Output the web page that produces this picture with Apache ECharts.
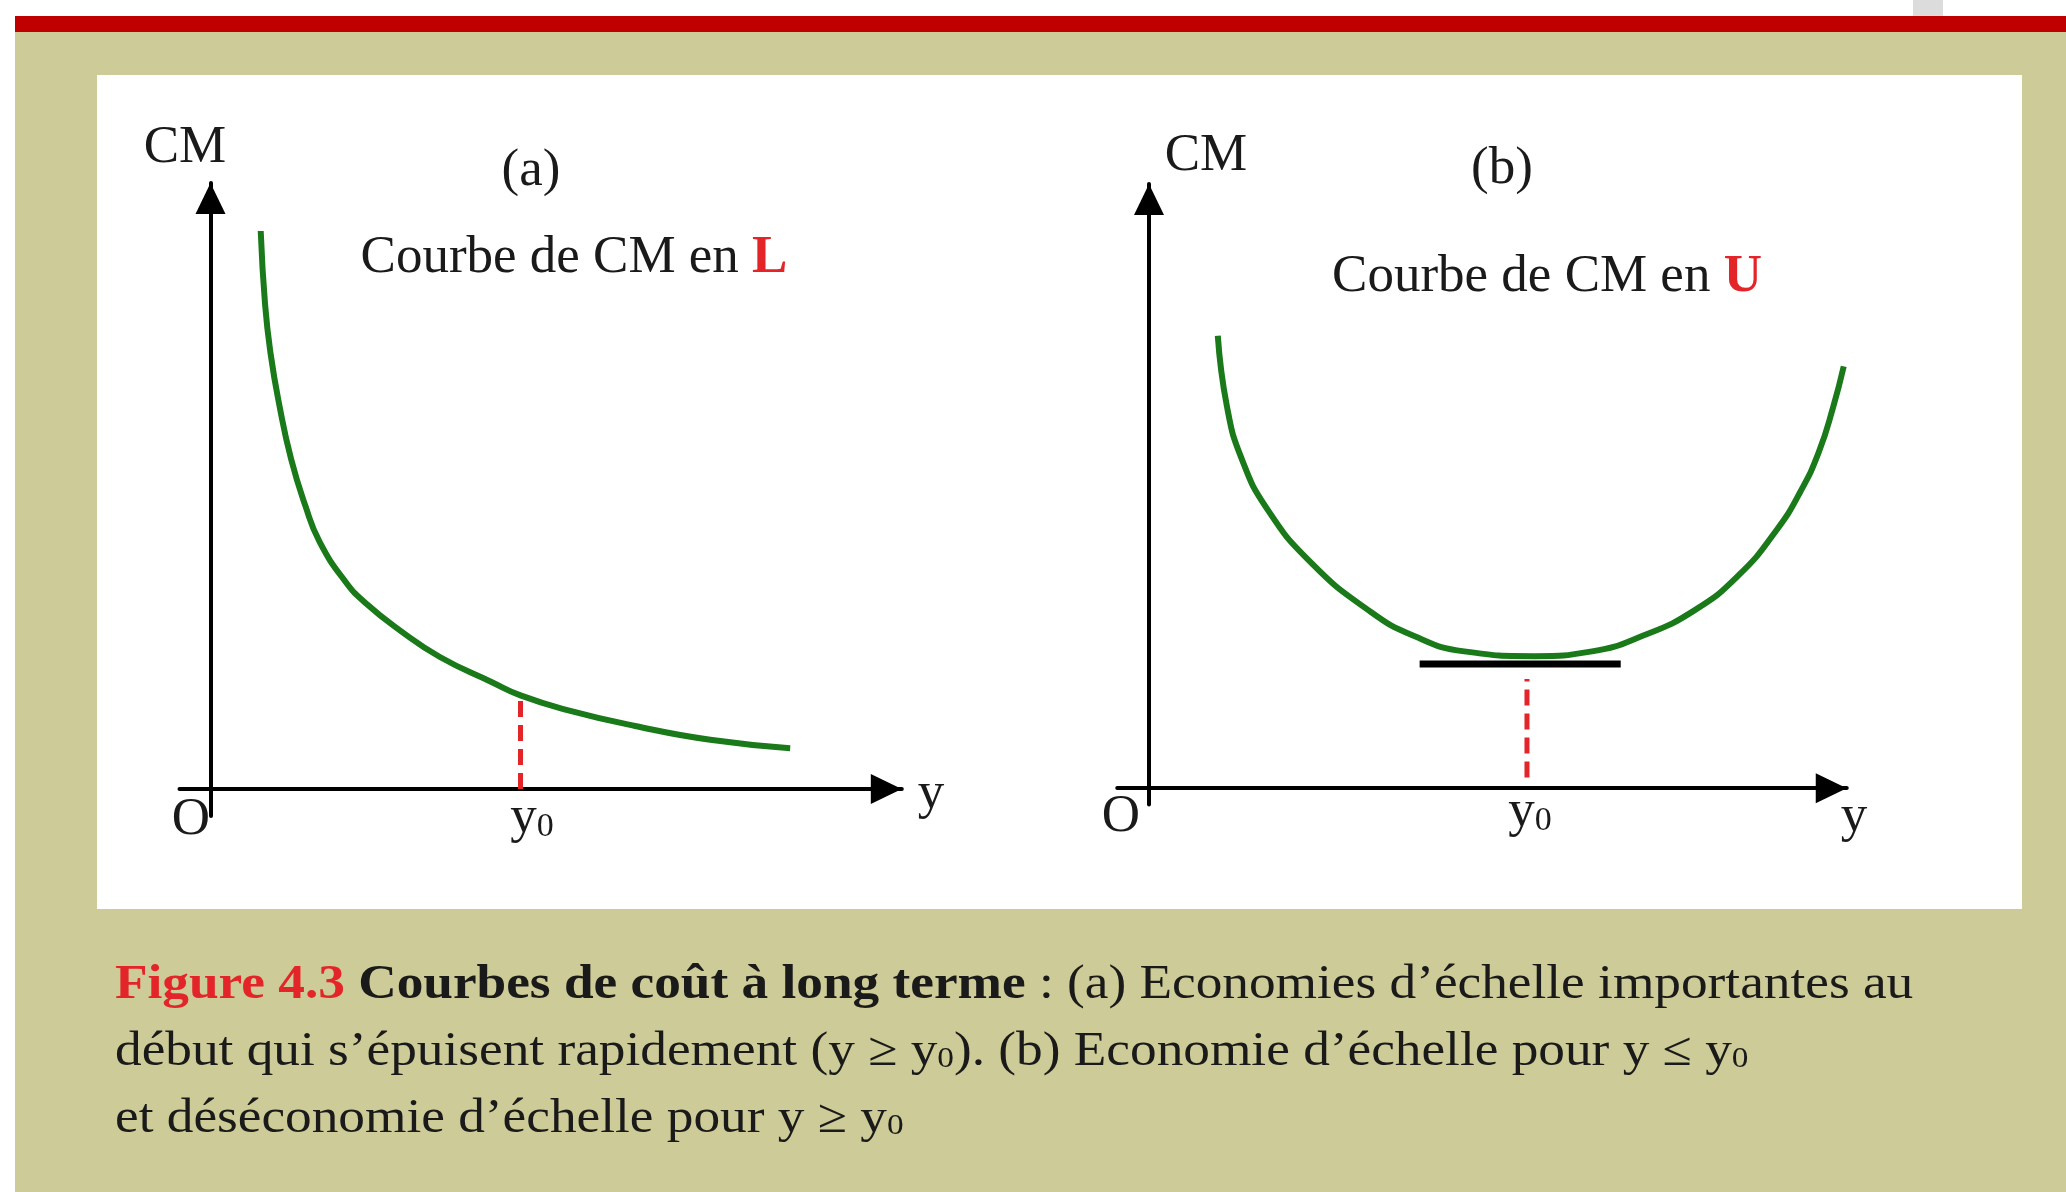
<!DOCTYPE html>
<html>
<head>
<meta charset="utf-8">
<title>Courbes de coût à long terme</title>
<script src="https://cdn.jsdelivr.net/npm/echarts@6/dist/echarts.min.js"></script>
<style>
  html, body { margin: 0; padding: 0; background: #fff; }
  #page { position: relative; width: 2066px; height: 1192px; overflow: hidden; background: #fff; }
  .tab { position: absolute; left: 1913px; top: 0; width: 30px; height: 16px; background: #dcdcdc; }
  .band { position: absolute; left: 15px; top: 16px; width: 2051px; height: 16px; background: #c00000; }
  .olive { position: absolute; left: 15px; top: 32px; right: 0; bottom: 0; background: #cdcb97; }
  .panel { position: absolute; left: 97px; top: 75px; width: 1925px; height: 834px; background: #fff; }
  #main { position: absolute; left: 0; top: 0; width: 2066px; height: 1192px; }
</style>
</head>
<body>
<div id="page">
  <div class="tab"></div>
  <div class="band"></div>
  <div class="olive"></div>
  <div class="panel"></div>
  <div id="main"></div>
</div>
<script>
// courbe de CM en L (a)
var xL = [0.81, 0.88, 0.97, 1.11, 1.30, 1.53, 1.76, 2.18, 2.50, 3.06, 3.70, 4.54, 5.00, 5.74, 6.85, 8.06, 9.35];
var yL = [9.30, 8.08, 7.25, 6.40, 5.50, 4.72, 4.12, 3.45, 3.10, 2.64, 2.20, 1.78, 1.56, 1.32, 1.05, 0.82, 0.68];
// courbe de CM en U (b)
var xU = [0.91, 1.03, 1.22, 1.56, 2.15, 2.91, 3.50, 4.17, 5.10, 5.86, 6.53, 7.21, 7.80, 8.30, 8.62, 8.86, 9.05, 9.19];
var yU = [7.54, 6.37, 5.51, 4.66, 3.75, 2.96, 2.54, 2.28, 2.20, 2.28, 2.54, 2.96, 3.55, 4.30, 4.95, 5.60, 6.35, 7.03];
// y0 et repères
var y0 = 5;
var dashA = [0, 1.56];
var dashB = [0.18, 1.82];
var tangentX = [3.58, 6.24];
var tangentY = 2.07;

(function () {
    var myChart = echarts.init(document.getElementById("main"), null, { renderer: "canvas" });

    function zip(xs, ys) {
        return xs.map(function (x, i) { return [x, ys[i]]; });
    }

    var serif = "Liberation Serif, Times New Roman, serif";
    var green = "#1a7a1a";
    var red = "#e3252a";

    // axe avec flèche, la pointe tombe sur max
    function axis(grid, min, max) {
        return {
            type: "value",
            gridIndex: grid,
            min: min,
            max: max,
            axisLine: {
                show: true,
                onZero: true,
                symbol: ["none", "triangle"],
                symbolSize: [30, 31],
                symbolOffset: [0, -15.5],
                lineStyle: { color: "#000", width: 4 },
            },
            axisTick: { show: false },
            axisLabel: { show: false },
            splitLine: { show: false },
        };
    }

    function label(x, y, text) {
        return {
            type: "text",
            x: x,
            y: y,
            style: {
                text: text,
                font: "53px " + serif,
                fill: "#1a1a1a",
                align: "center",
                verticalAlign: "middle",
                rich: {
                    sub: { fontSize: 34, fontFamily: serif, fill: "#1a1a1a", verticalAlign: "bottom", lineHeight: 44 },
                    red: { fontSize: 53, fontFamily: serif, fontWeight: "bold", fill: red },
                },
            },
        };
    }

    var captionStyle = {
        text:
            "{red|Figure 4.3} {b|Courbes de coût à long terme} : (a) Economies d’échelle importantes au\n" +
            "début qui s’épuisent rapidement (y ≥ y{sub|0}). (b) Economie d’échelle pour y ≤ y{sub|0}\n" +
            "et déséconomie d’échelle pour y ≥ y{sub|0}",
        font: "48px " + serif,
        fill: "#1a1a1a",
        align: "left",
        verticalAlign: "top",
        lineHeight: 67,
        rich: {
            red: { fontSize: 48, fontFamily: serif, fontWeight: "bold", fill: red, lineHeight: 67 },
            b: { fontSize: 48, fontFamily: serif, fontWeight: "bold", fill: "#1a1a1a", lineHeight: 67 },
            sub: { fontSize: 30, fontFamily: serif, fill: "#1a1a1a", padding: [14, 0, 0, 0] },
        },
    };

    function curve(name, grid, data) {
        return {
            name: name,
            type: "line",
            xAxisIndex: grid,
            yAxisIndex: grid,
            data: data,
            smooth: 0.5,
            showSymbol: false,
            clip: false,
            lineStyle: { color: green, width: 6 },
            z: 3,
        };
    }

    function segment(name, grid, data, color, width, type) {
        return {
            name: name,
            type: "line",
            xAxisIndex: grid,
            yAxisIndex: grid,
            data: data,
            showSymbol: false,
            clip: false,
            lineStyle: { color: color, width: width, type: type || "solid" },
            z: 2,
        };
    }

    var option = {
        animation: false,
        grid: [
            { left: 179.5, top: 183, width: 722.3, height: 633 },
            { left: 1117.25, top: 184, width: 729.5, height: 620.4 },
        ],
        xAxis: [axis(0, -0.5, 11.15), axis(1, -0.42, 9.23)],
        yAxis: [axis(0, -0.45, 10.1), axis(1, -0.27, 10.07)],
        series: [
            curve("CM en L", 0, zip(xL, yL)),
            segment("y0 (a)", 0, [[y0, dashA[0]], [y0, dashA[1]]], red, 5, [16, 8]),
            curve("CM en U", 1, zip(xU, yU)),
            segment("tangente", 1, [[tangentX[0], tangentY], [tangentX[1], tangentY]], "#000", 7),
            segment("y0 (b)", 1, [[y0, dashB[0]], [y0, dashB[1]]], red, 5, [16, 8]),
        ],
        graphic: [
            // (a)
            label(185, 148, "CM"),
            label(531, 171, "(a)"),
            label(574, 258, "Courbe de CM en {red|L}"),
            label(191, 820, "O"),
            label(532, 818, "y{sub|0}"),
            label(931, 794, "y"),
            // (b)
            label(1206, 156, "CM"),
            label(1502, 169, "(b)"),
            label(1547, 277, "Courbe de CM en {red|U}"),
            label(1121, 817, "O"),
            label(1530, 812, "y{sub|0}"),
            label(1854, 817, "y"),
            // légende
            { type: "text", x: 115, y: 952, scaleX: 1.11, style: captionStyle },
        ],
    };

    myChart.setOption(option);
})();
</script>
</body>
</html>
